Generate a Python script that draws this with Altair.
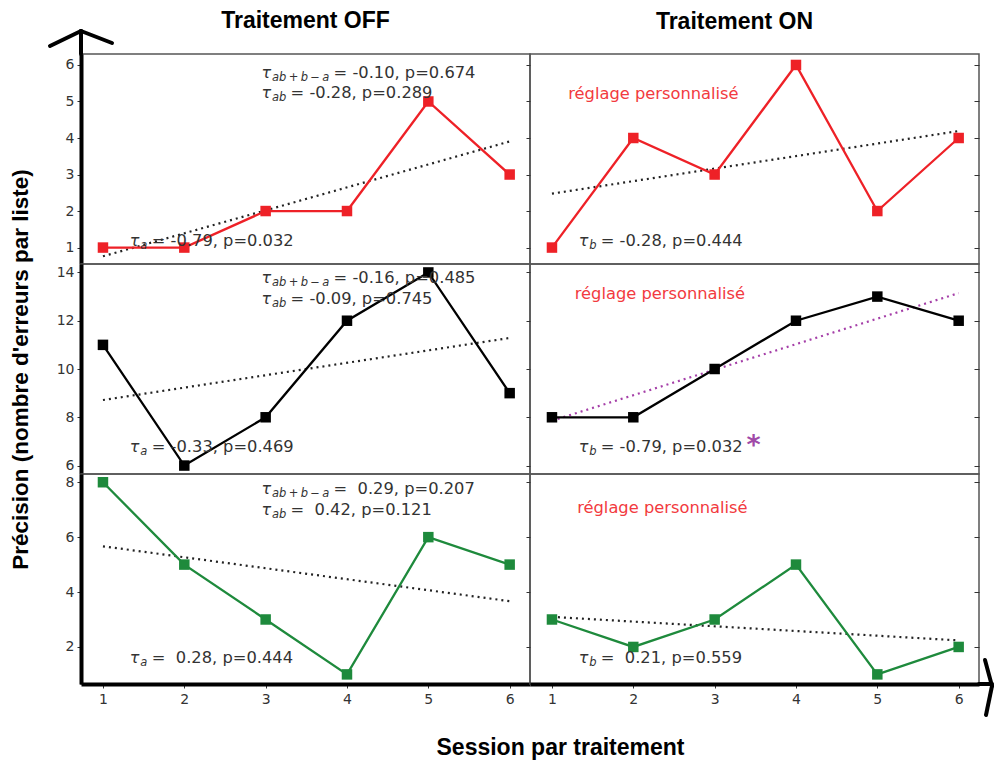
import altair as alt
import pandas as pd

sessions = [1, 2, 3, 4, 5, 6]

# Précision (errors per list) for each session, one list per row and condition
off_red = [1, 1, 2, 2, 5, 3]
on_red = [1, 4, 3, 6, 2, 4]
off_black = [11, 6, 8, 12, 14, 9]
on_black = [8, 8, 10, 12, 13, 12]
off_green = [8, 5, 3, 1, 6, 5]
on_green = [3, 2, 3, 5, 1, 2]

col_titles = ["Traitement OFF", "Traitement ON"]
row_colors = ["#ee2127", "#000000", "#1e8a3c"]
y_ticks = [[1, 2, 3, 4, 5, 6], [6, 8, 10, 12, 14], [2, 4, 6, 8]]
y_domains = [[0.55, 6.3], [5.65, 14.35], [0.65, 8.3]]
x_domain = [0.73, 6.25]

NB = "\u00a0"
SUB_ABBA = "ab\u2009+\u2009b\u2009\u2212\u2009a"

# Kendall statistics per panel: (subscript, text, x, y)
stats = {
    (0, 0): [(SUB_ABBA, "= -0.10, p=0.674", 2.95, 5.78),
             ("ab", "= -0.28, p=0.289", 2.95, 5.23),
             ("a", "= -0.79, p=0.032", 1.33, 1.18)],
    (1, 0): [(SUB_ABBA, "= -0.16, p=0.485", 2.95, 13.77),
             ("ab", "= -0.09, p=0.745", 2.95, 12.89),
             ("a", "= -0.33, p=0.469", 1.33, 6.77)],
    (2, 0): [(SUB_ABBA, "= " + NB + "0.29, p=0.207", 2.95, 7.75),
             ("ab", "= " + NB + "0.42, p=0.121", 2.95, 6.98),
             ("a", "= " + NB + "0.28, p=0.444", 1.33, 1.6)],
    (0, 1): [("b", "= -0.28, p=0.444", 1.33, 1.18)],
    (1, 1): [("b", "= -0.79, p=0.032", 1.33, 6.77)],
    (2, 1): [("b", "= " + NB + "0.21, p=0.559", 1.33, 1.6)],
}
note_text = "réglage personnalisé"
note_pos = {(0, 1): (1.2, 5.2), (1, 1): (1.28, 13.1), (2, 1): (1.31, 7.06)}
star_pos = (3.48, 6.8)

series = {
    (0, 0): off_red, (0, 1): on_red,
    (1, 0): off_black, (1, 1): on_black,
    (2, 0): off_green, (2, 1): on_green,
}

W, H = 449, 210
TXT = "#333333"
BASE_FONT = "DejaVu Sans"
TITLE_FONT = "Liberation Sans"


def x_enc(row, col):
    if row == 2:
        kw = dict(values=sessions, format="d", grid=False,
                  labelFont=BASE_FONT, labelFontSize=14, labelColor=TXT,
                  tickColor=TXT, tickSize=4, labelPadding=4,
                  domainColor="black", domainWidth=4)
        if col == 0:
            kw.update(title="Session par traitement", titleFont=TITLE_FONT,
                      titleFontSize=23, titleFontWeight="bold", titleColor="black",
                      titleX=479, titleY=63, titleAlign="center",
                      titleBaseline="middle")
        else:
            kw.update(title=None)
        axis = alt.Axis(**kw)
    else:
        axis = None
    return alt.X("session:Q", axis=axis,
                 scale=alt.Scale(domain=x_domain, nice=False, zero=False))


def y_axis(row, col, side="left"):
    if side == "right":
        return alt.Axis(orient="right", values=y_ticks[row], labels=False,
                        domain=False, grid=False, tickSize=5, offset=-5,
                        tickColor=TXT, title=None)
    if col == 0:
        kw = dict(orient="left", values=y_ticks[row], format="d", grid=False,
                  labelFont=BASE_FONT, labelFontSize=14, labelColor=TXT,
                  tickColor=TXT, tickSize=4, labelPadding=3,
                  domainColor="black", domainWidth=4, title=None)
        if row == 1:
            kw.update(title="Précision (nombre d'erreurs par liste)",
                      titleFont=TITLE_FONT, titleFontSize=22.5,
                      titleFontWeight="bold", titleColor="black",
                      titlePadding=24)
        return alt.Axis(**kw)
    return alt.Axis(orient="left", values=y_ticks[row], labels=False,
                    domain=False, grid=False, tickSize=4, tickColor=TXT,
                    title=None)


def y_enc(row, col, axis):
    return alt.Y("value:Q", axis=axis,
                 scale=alt.Scale(domain=y_domains[row], nice=False, zero=False))


def panel(row, col):
    color = row_colors[row]
    df = pd.DataFrame({"session": sessions, "value": series[(row, col)]})
    xe = x_enc(row, col)
    main_axis = y_axis(row, col)
    # left column: one shared axis, repeated on every layer so it merges;
    # right column: left ticks on the trend layer, right ticks on the squares
    other_axis = main_axis if col == 0 else None

    def ye(axis=other_axis):
        return y_enc(row, col, axis)

    trend_color = "#a53fa8" if (row, col) == (1, 1) else "#222222"
    trend = alt.Chart(df).transform_regression(
        "session", "value", method="linear", extent=[1, 6]
    ).mark_line(color=trend_color, strokeDash=[2, 4], strokeWidth=2.2).encode(
        x=xe, y=ye(main_axis))

    line = alt.Chart(df).mark_line(color=color, strokeWidth=2.3).encode(x=xe, y=ye())
    squares = alt.Chart(df).mark_square(color=color, size=110, opacity=1).encode(
        x=xe, y=ye(y_axis(row, col, "right") if col == 1 else main_axis))

    layers = [trend, line, squares]

    # Kendall tau annotations: τ, italic subscript, then the values
    for sub, txt, ax, ay in stats[(row, col)]:
        adf = pd.DataFrame({"session": [ax], "value": [ay]})
        shift = 72 if len(sub) > 2 else (29 if len(sub) == 2 else 22)
        base = alt.Chart(adf).encode(x=xe, y=ye())
        layers.append(base.mark_text(text="τ", align="left", baseline="middle",
                                     font=BASE_FONT, fontSize=16, fontStyle="italic",
                                     color=TXT))
        layers.append(base.mark_text(text=sub, align="left", baseline="middle",
                                     dx=10.5, dy=5, font=BASE_FONT, fontSize=11.5,
                                     fontStyle="italic", color=TXT))
        layers.append(base.mark_text(text=txt, align="left", baseline="middle",
                                     dx=shift, font=BASE_FONT, fontSize=16.3,
                                     color=TXT))

    if (row, col) in note_pos:
        nx, ny = note_pos[(row, col)]
        ndf = pd.DataFrame({"session": [nx], "value": [ny]})
        layers.append(alt.Chart(ndf).mark_text(
            text=note_text, align="left", baseline="middle", font=BASE_FONT,
            fontSize=16.3, color="#f23a40").encode(x=xe, y=ye()))

    if (row, col) == (1, 1):
        sdf = pd.DataFrame({"session": [star_pos[0]], "value": [star_pos[1]]})
        layers.append(alt.Chart(sdf).mark_text(
            text="*", align="center", baseline="middle", font=BASE_FONT,
            fontSize=27, fontWeight="bold", color="#a04aa8").encode(x=xe, y=ye()))

    # hand-drawn axis arrows
    deco = pd.DataFrame({"k": [0]})
    pen = dict(color="black", strokeWidth=4, strokeCap="round")
    if (row, col) == (0, 0):
        for x1, y1, x2, y2 in [(0, -23, 0, 0), (0, -23, -31, -8), (0, -23, 31, -11)]:
            layers.append(alt.Chart(deco).mark_rule(**pen).encode(
                x=alt.value(x1), y=alt.value(y1), x2=alt.value(x2), y2=alt.value(y2)))
    if (row, col) == (2, 1):
        tip = 462
        for x1, y1, x2, y2 in [(W, H, tip, H), (tip, H + 2, 455, H - 24),
                               (tip, H + 2, 456, H + 31)]:
            layers.append(alt.Chart(deco).mark_rule(**pen).encode(
                x=alt.value(x1), y=alt.value(y1), x2=alt.value(x2), y2=alt.value(y2)))

    props = dict(width=W, height=H)
    if row == 0:
        props["title"] = alt.TitleParams(
            col_titles[col], font=TITLE_FONT, fontSize=23, fontWeight="bold",
            color="black", offset=20, anchor="middle", frame="group",
            dx=0 if col == 0 else -20, dy=24 if col == 0 else 0)
    ch = alt.layer(*layers).properties(**props)
    if col == 1:
        ch = ch.resolve_axis(y="independent")
    return ch


panels = [panel(r, c) for r in range(3) for c in range(2)]

chart = alt.concat(*panels, columns=2, spacing=0, bounds="flush").properties(
    padding={"left": 8, "top": 9, "right": 0, "bottom": 2}
).configure_view(stroke="#555555", strokeWidth=1.5)

chart.save("out.html", embed_options={"renderer": "svg", "actions": False})
